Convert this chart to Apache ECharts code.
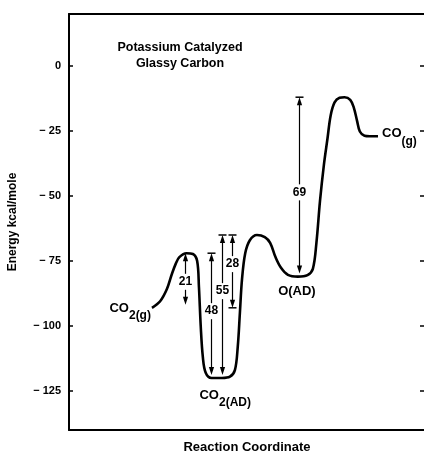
<!DOCTYPE html>
<html>
<head>
<meta charset="utf-8">
<script src="https://cdn.jsdelivr.net/npm/echarts@6/dist/echarts.min.js"></script>
<style>
  html, body { margin: 0; padding: 0; background: #fff; }
  #chart { width: 424px; height: 452px; }
</style>
</head>
<body>
<div id="chart"></div>
<script>
// Energy profile: reaction coordinate (arbitrary units) vs energy (kcal/mole)
const curveX = [23.3, 25.6, 27.5, 28.9, 30.0, 31.0, 33.0, 34.8, 36.0, 36.5, 37.0, 37.6, 38.4, 40.0,
  43.0, 45.2, 46.6, 47.4, 48.0, 48.6, 49.5, 50.8, 52.8, 55.0, 56.5, 58.0, 59.5, 61.5, 64.3, 67.0,
  68.5, 69.5, 70.5, 71.6, 72.6, 73.5, 74.6, 76.0, 77.4, 79.0, 80.0, 80.9, 81.7, 83.0, 84.5, 86.8];
const curveE = [-93, -90.5, -85.8, -80, -76, -73.5, -72, -72.3, -75, -85, -100, -112, -118, -120,
  -120, -119.5, -117, -108, -95, -82, -72, -67, -65, -65.8, -68, -73.5, -77.5, -80.3, -81, -80.4,
  -78, -68, -52, -38, -28, -19, -14, -12.2, -12, -13, -16, -21, -25.2, -26.8, -27, -27];

// Labelled energy differences drawn as vertical arrows
const arrowX = [32.6, 39.9, 43.0, 45.8, 64.6];
const arrowTop = [-72, -72, -65, -65, -12];
const arrowSpan = [21, 48, 55, 28, 69];
const arrowLabelAt = [-83, -94.3, -86.6, -76.2, -48.6];
const arrowTopBar = [0, 1, 1, 1, 1];
const arrowBottomBar = [0, 0, 0, 1, 0];

// State labels
const stateX = [23.3, 42.2, 64.3, 86.8];
const stateE = [-93, -120, -81, -27];
const stateLabel = ['{m|CO}{s|2(g)}', '{m|CO}{s|2(AD)}', '{m|O(AD)}', '{m|CO}{s|(g)}'];

const yTicks = [0, -25, -50, -75, -100, -125];

const FONT = 'Liberation Sans';

const arrowData = arrowX.map((x, i) => [x, arrowTop[i], arrowTop[i] - arrowSpan[i], arrowLabelAt[i], arrowTopBar[i], arrowBottomBar[i], arrowSpan[i]]);

function head(x, y, dir) {
  // dir = -1 points up, +1 points down
  const L = 8, W = 2.6;
  return { type: 'polygon', shape: { points: [[x, y], [x - W, y - dir * L], [x + W, y - dir * L]] }, style: { fill: '#000' } };
}

function renderArrow(params, api) {
  const x = api.value(0);
  const pTop = api.coord([x, api.value(1)]);
  const pBot = api.coord([x, api.value(2)]);
  const pLab = api.coord([x, api.value(3)]);
  const topBar = api.value(4), botBar = api.value(5);
  const cx = Math.round(pTop[0]) + 0.5;
  const gap = 8;
  const topY = pTop[1];
  const botY = botBar ? pBot[1] : pBot[1] - 3;
  const children = [];
  const ls = { stroke: '#000', lineWidth: 1.2 };
  children.push({ type: 'line', shape: { x1: cx, y1: pLab[1] - gap, x2: cx, y2: topY + 4 }, style: ls });
  children.push({ type: 'line', shape: { x1: cx, y1: pLab[1] + gap, x2: cx, y2: botY - 4 }, style: ls });
  children.push(head(cx, topY, -1));
  children.push(head(cx, botY, 1));
  if (topBar) children.push({ type: 'line', shape: { x1: cx - 4, y1: topY, x2: cx + 4, y2: topY }, style: { stroke: '#000', lineWidth: 1.5 } });
  if (botBar) children.push({ type: 'line', shape: { x1: cx - 4, y1: botY, x2: cx + 4, y2: botY }, style: { stroke: '#000', lineWidth: 1.5 } });
  children.push({ type: 'text', style: { text: String(api.value(6)), x: cx, y: pLab[1], align: 'center', verticalAlign: 'middle',
    fontFamily: FONT, fontWeight: 'bold', fontSize: 12, fill: '#000' } });
  return { type: 'group', children };
}

const chart = echarts.init(document.getElementById('chart'), null, { renderer: 'canvas' });

const stateLabelPos = [
  { position: 'left', distance: 1, offset: [0, 4] },
  { position: 'bottom', distance: 9, offset: [6, 2] },
  { position: 'bottom', distance: 8, offset: [-1, 0] },
  { position: 'right', distance: 4, offset: [0, 1] }
];

const frameLine = { show: true, onZero: false, lineStyle: { color: '#000', width: 2 } };

chart.setOption({
  animation: false,
  backgroundColor: '#fff',
  textStyle: { fontFamily: FONT },
  graphic: [
    { type: 'text', style: { text: 'Potassium Catalyzed', x: 180, y: 48, align: 'center', verticalAlign: 'middle',
      fontFamily: FONT, fontWeight: 'bold', fontSize: 12.5, fill: '#000' } },
    { type: 'text', style: { text: 'Glassy Carbon', x: 180, y: 64, align: 'center', verticalAlign: 'middle',
      fontFamily: FONT, fontWeight: 'bold', fontSize: 12.5, fill: '#000' } }
  ],
  grid: { left: 69, top: 14, width: 356, height: 416, outerBoundsMode: 'none', containLabel: false },
  xAxis: [
    { type: 'value', min: 0, max: 100, position: 'bottom',
      axisLine: frameLine,
      axisTick: { show: false }, axisLabel: { show: false }, splitLine: { show: false },
      name: 'Reaction Coordinate', nameLocation: 'middle', nameGap: 11,
      nameTextStyle: { fontFamily: FONT, fontWeight: 'bold', fontSize: 13, color: '#000' } },
    { type: 'value', min: 0, max: 100, position: 'top',
      axisLine: frameLine,
      axisTick: { show: false }, axisLabel: { show: false }, splitLine: { show: false } }
  ],
  yAxis: [
    { type: 'value', min: -140, max: 20, position: 'left',
      axisLine: frameLine,
      axisTick: { show: true, inside: true, length: 4, customValues: yTicks, lineStyle: { color: '#000', width: 1.5 } },
      axisLabel: { show: true, customValues: yTicks, margin: 8, color: '#000', fontFamily: FONT, fontWeight: 'bold', fontSize: 11,
        formatter: v => (v < 0 ? '\u2212 ' + Math.abs(v) : String(v)) },
      splitLine: { show: false },
      name: 'Energy kcal/mole', nameLocation: 'middle', nameGap: 50, nameRotate: 90,
      nameTextStyle: { fontFamily: FONT, fontWeight: 'bold', fontSize: 12, color: '#000' } },
    { type: 'value', min: -140, max: 20, position: 'right',
      axisLine: { show: false, onZero: false },
      axisTick: { show: true, inside: true, length: 5, customValues: yTicks, lineStyle: { color: '#000', width: 1.5 } },
      axisLabel: { show: false }, splitLine: { show: false } }
  ],
  series: [
    { type: 'line', name: 'profile', data: curveX.map((x, i) => [x, curveE[i]]),
      smooth: 0.35, showSymbol: false, symbol: 'none',
      lineStyle: { color: '#000', width: 2.6 }, z: 3 },
    { type: 'custom', name: 'differences', data: arrowData, renderItem: renderArrow, z: 4 },
    { type: 'scatter', name: 'states', symbolSize: 0, z: 5, itemStyle: { opacity: 1 },
      data: stateX.map((x, i) => ({ value: [x, stateE[i]], label: Object.assign({ show: true, formatter: stateLabel[i] }, stateLabelPos[i]) })),
      label: { color: '#000', opacity: 1,
        rich: {
          m: { fontFamily: FONT, fontWeight: 'bold', fontSize: 13, color: '#000', verticalAlign: 'top', lineHeight: 14 },
          s: { fontFamily: FONT, fontWeight: 'bold', fontSize: 12, color: '#000', verticalAlign: 'bottom', lineHeight: 20 }
        } } }
  ]
});
</script>
</body>
</html>
